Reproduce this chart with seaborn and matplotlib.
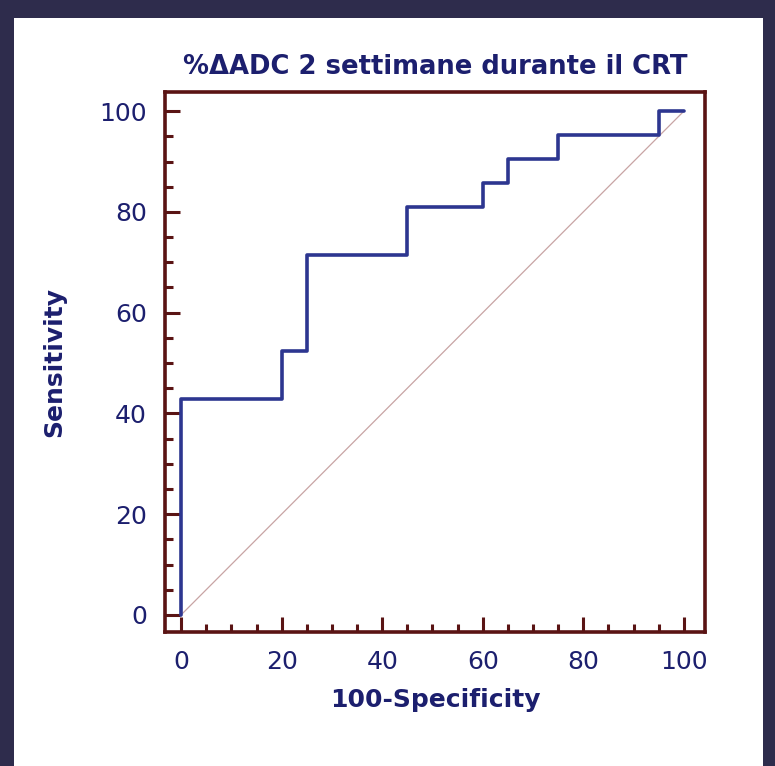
import matplotlib
matplotlib.use("Agg")
import matplotlib.pyplot as plt
import seaborn as sns
import pandas as pd
from matplotlib.patches import Rectangle
from matplotlib.ticker import MultipleLocator

# ROC curve vertices (100-Specificity, Sensitivity)
fpr = [0, 0, 20, 20, 25, 25, 45, 45, 60, 60, 65, 65, 75, 75, 95, 95, 100]
tpr = [0, 42.86, 42.86, 52.38, 52.38, 71.43, 71.43, 80.95, 80.95, 85.71, 85.71,
       90.48, 90.48, 95.24, 95.24, 100, 100]
diag = [0, 100]
ticks = [0, 20, 40, 60, 80, 100]

title = "%ΔADC 2 settimane durante il CRT"
xlabel = "100-Specificity"
ylabel = "Sensitivity"

sns.set_style("white")
plt.rcParams['font.family'] = ['DejaVu Sans']

navy = "#1c1f6e"
spine_col = "#5a1414"
line_col = "#2d3690"

fig = plt.figure(figsize=(7.75, 7.66), dpi=100)
fig.patch.set_facecolor("white")
# dark slide border
band = "#2e2c4c"
fig.patches.append(Rectangle((0, 1 - 18 / 766), 1, 18 / 766, transform=fig.transFigure,
                             facecolor=band, edgecolor="none", zorder=0))
fig.patches.append(Rectangle((0, 0), 14 / 775, 1, transform=fig.transFigure,
                             facecolor=band, edgecolor="none", zorder=0))
fig.patches.append(Rectangle((1 - 12 / 775, 0), 12 / 775, 1, transform=fig.transFigure,
                             facecolor=band, edgecolor="none", zorder=0))

ax = fig.add_axes([165 / 775, 1 - 632 / 766, 540 / 775, 540 / 766])
ax.set_facecolor("white")

df = pd.DataFrame({"fpr": fpr, "tpr": tpr})
dd = pd.DataFrame({"x": diag, "y": diag})
sns.lineplot(data=dd, x="x", y="y", ax=ax, color="#c8a4a4", linewidth=0.9,
             sort=False, estimator=None)
sns.lineplot(data=df, x="fpr", y="tpr", ax=ax, color=line_col, linewidth=2.6,
             sort=False, estimator=None)

ax.set_xlim(-3.2, 104.2)
ax.set_ylim(-3.4, 103.8)
ax.xaxis.set_minor_locator(MultipleLocator(5))
ax.yaxis.set_minor_locator(MultipleLocator(5))
ax.set_xticks(ticks)
ax.set_yticks(ticks)
ax.set_xticklabels([str(t) for t in ticks])
ax.set_yticklabels([str(t) for t in ticks])

for s in ax.spines.values():
    s.set_visible(True)
    s.set_color(spine_col)
    s.set_linewidth(2.6)

ax.tick_params(axis="both", which="major", direction="in", length=11, width=2.2,
               color=spine_col, labelsize=18, labelcolor=navy, pad=13,
               bottom=True, left=True, top=False, right=False)
ax.tick_params(axis="both", which="minor", direction="in", length=5.5, width=2.2,
               color=spine_col, bottom=True, left=True, top=False, right=False)

ax.set_xlabel(xlabel, fontsize=18, fontweight="bold", color=navy, labelpad=10)
ax.set_ylabel(ylabel, fontsize=18, fontweight="bold", color=navy, labelpad=24)
ax.set_title(title, fontsize=18.6, fontweight="bold", color=navy, pad=13)

fig.savefig("out.png", dpi=100, facecolor=fig.get_facecolor())
